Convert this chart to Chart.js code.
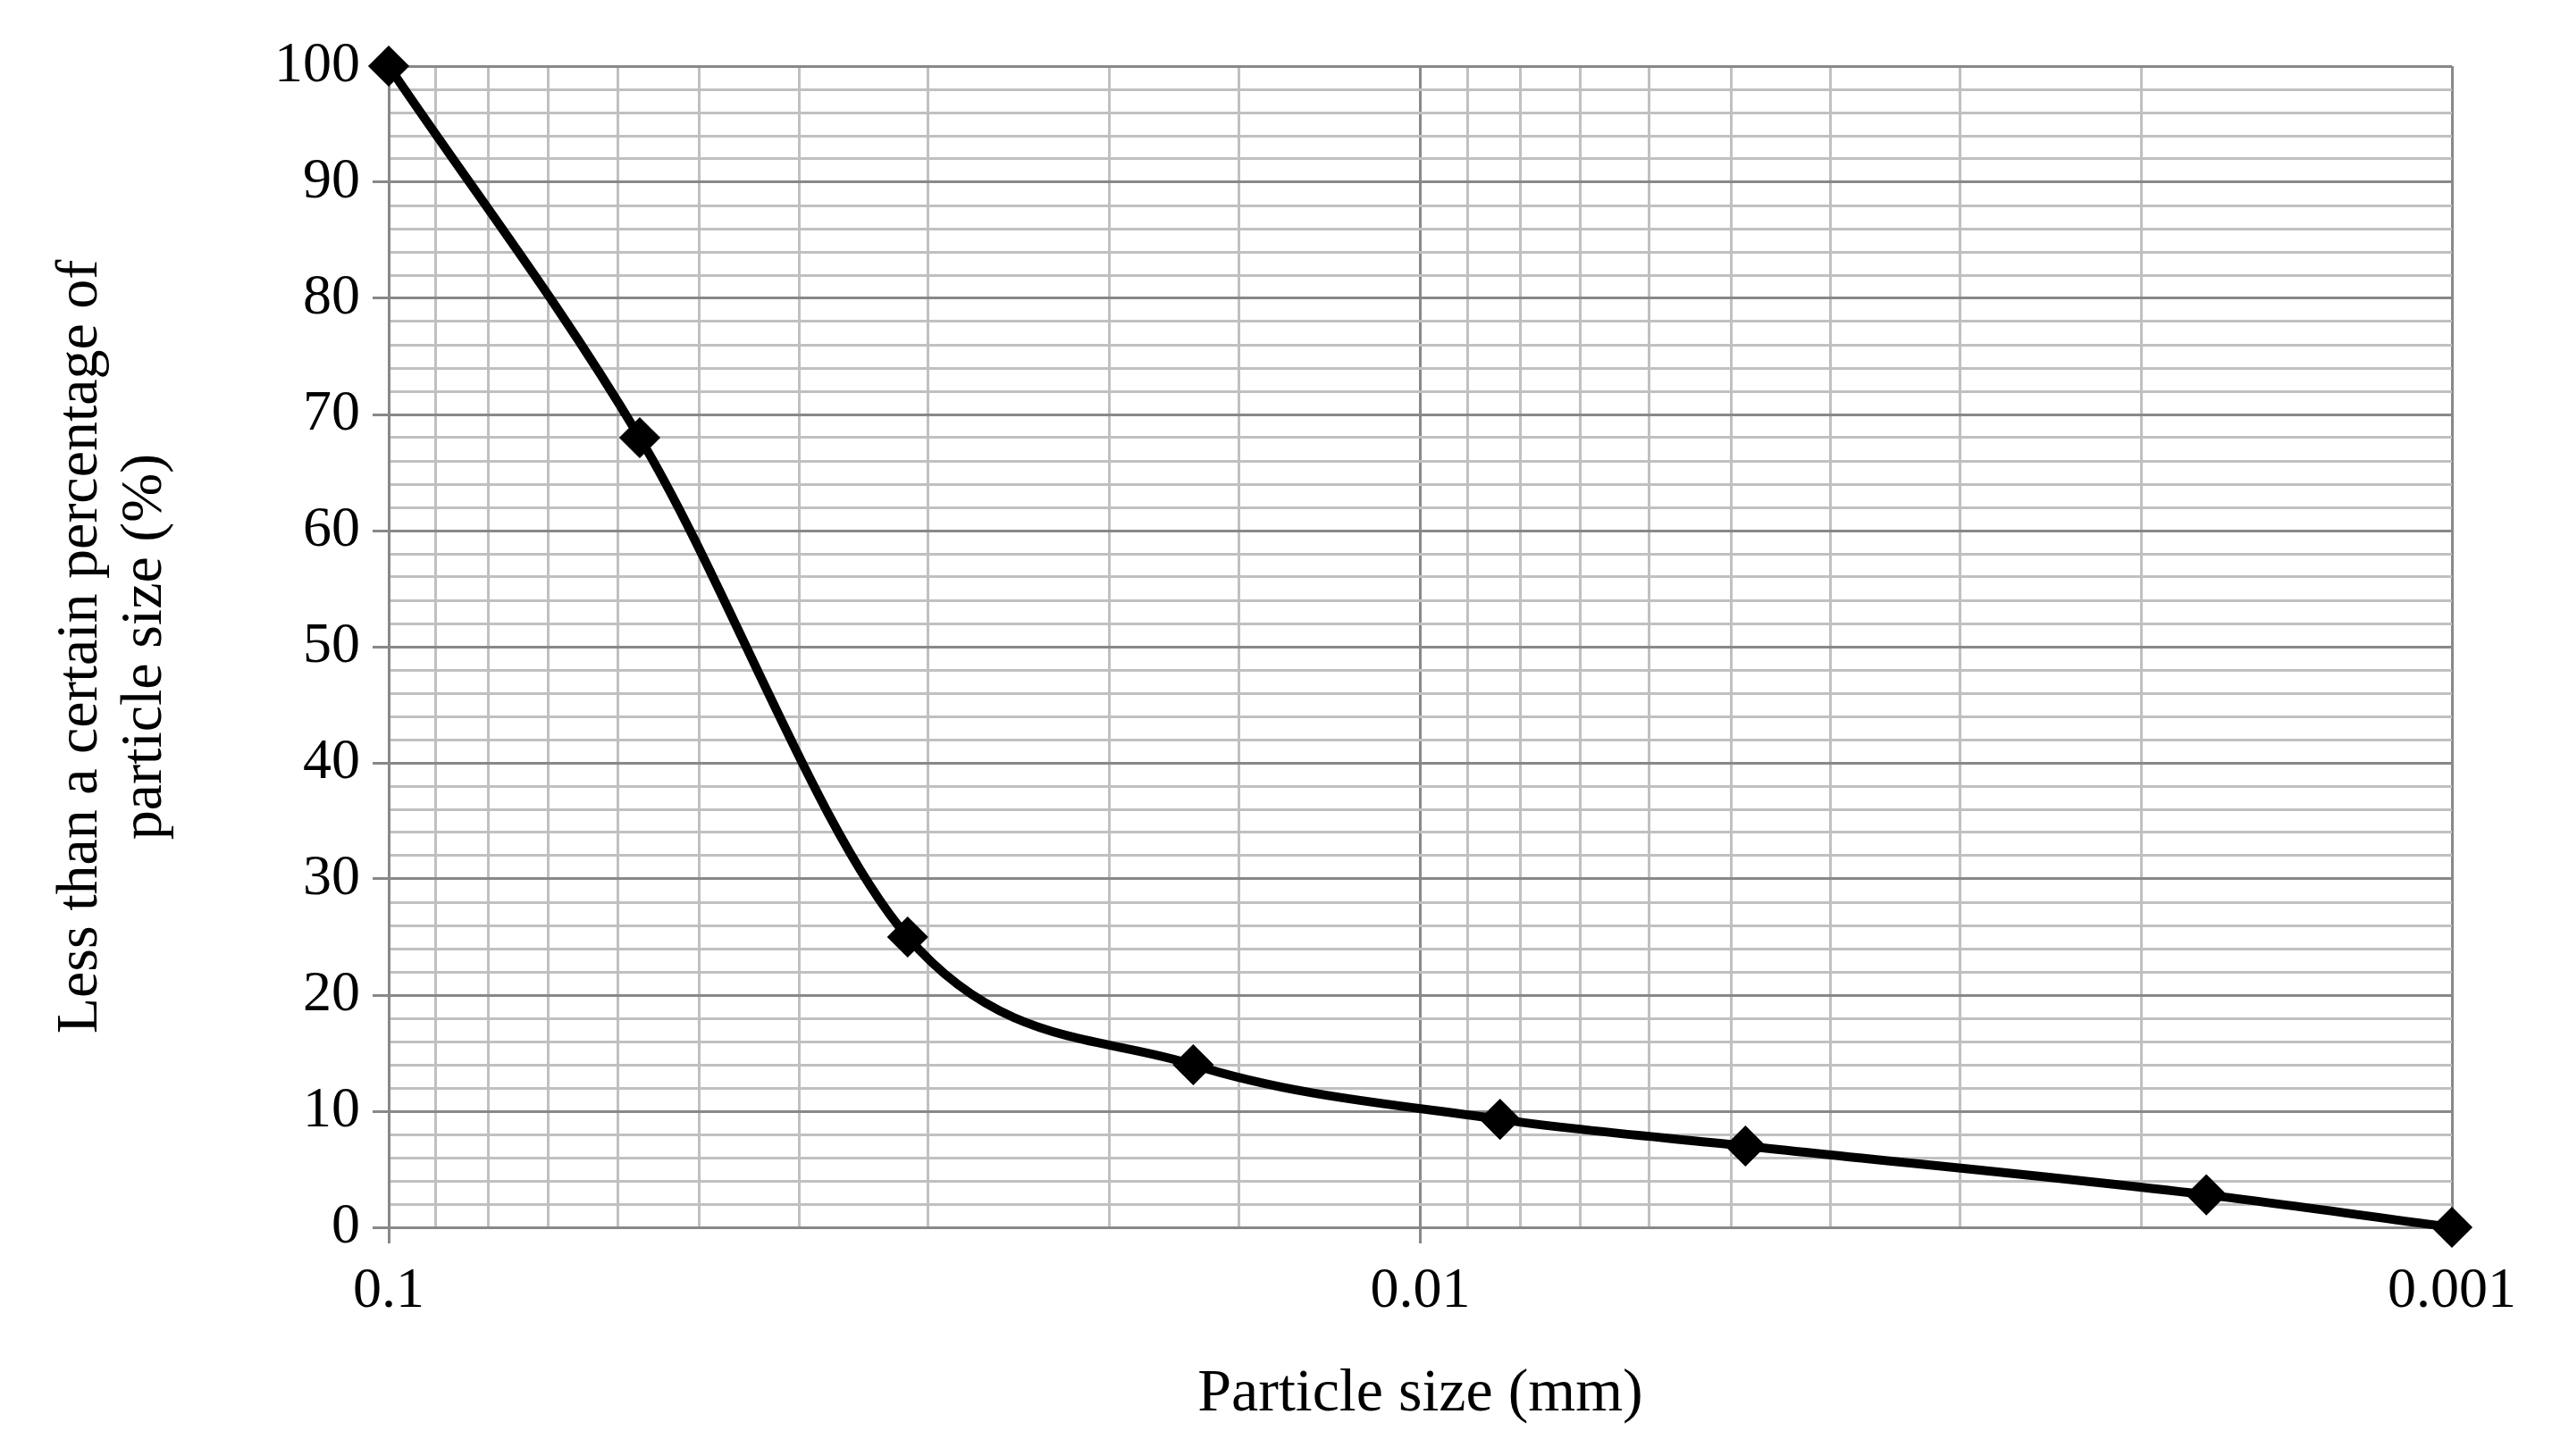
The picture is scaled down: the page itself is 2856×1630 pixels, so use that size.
<!DOCTYPE html>
<html><head><meta charset="utf-8">
<script src="https://cdn.jsdelivr.net/npm/chart.js@4/dist/chart.umd.min.js"></script>
<style>html,body{margin:0;background:#fff}#w{width:2856px;height:1630px}</style>
</head><body><div id="w"><canvas id="c"></canvas></div>
<script>
const sizes = [0.1, 0.0571, 0.0314, 0.0166, 0.00837, 0.00484, 0.00173, 0.001];
const percents = [100, 68, 25, 14, 9.3, 7, 2.8, 0];
const xLabels = [0.1, 0.01, 0.001];
const yLabels = [0,10,20,30,40,50,60,70,80,90,100];
const font = 'Liberation Serif';
const isMajorX = v => xLabels.some(l => Math.abs(Math.log10(v) - Math.log10(l)) < 1e-6);
new Chart(document.getElementById('c'), {
  type: 'scatter',
  data: { datasets: [{
    data: sizes.map((s,i)=>({x:s,y:percents[i]})),
    showLine: true, borderColor:'#000', backgroundColor:'#000', borderWidth: 10, clip: false,
    cubicInterpolationMode: 'monotone', pointStyle:'rectRot', pointRadius: 16
  }]},
  options: {
    responsive:true, maintainAspectRatio:false, animation:false,
    layout:{padding:{top:74,right:112,left:50,bottom:28}},
    plugins:{legend:{display:false},tooltip:{enabled:false}},
    scales:{
      x:{type:'logarithmic', reverse:true, min:0.001, max:0.1,
        afterFit:s=>{s.height=228;},
        ticks:{autoSkip:false, maxRotation:0, color:'#000', font:{family:font,size:64}, padding:16,
          callback:v=> isMajorX(v) ? String(xLabels.find(l=>Math.abs(Math.log10(v)-Math.log10(l))<1e-6)) : ''},
        grid:{color:c=> (c.tick && isMajorX(c.tick.value)) ? '#888' : '#c0c0c0', lineWidth:3,
          tickLength:18, tickColor:c=> (c.tick && isMajorX(c.tick.value)) ? '#888' : 'rgba(0,0,0,0)'},
        border:{color:'#888', width:3},
        title:{display:true, text:'Particle size (mm)', color:'#000', font:{family:font,size:68}, padding:{top:0,bottom:0}}
      },
      y:{min:0, max:100,
        afterFit:s=>{s.width=385;},
        ticks:{stepSize:2, autoSkip:false, color:'#000', font:{family:font,size:64}, padding:14,
          callback:v=> yLabels.includes(v) ? String(v) : ''},
        grid:{color:c=> (c.tick && c.tick.value%10===0) ? '#888' : '#c0c0c0', lineWidth:3,
          tickLength:18, tickColor:c=> (c.tick && c.tick.value%10===0) ? '#888' : 'rgba(0,0,0,0)'},
        border:{color:'#888', width:3},
        title:{display:true, text:['Less than a certain percentage of','particle size (%)'], color:'#000', font:{family:font,size:66,lineHeight:1.1}, padding:{bottom:4}}
      }
    }
  }
});
</script></body></html>
